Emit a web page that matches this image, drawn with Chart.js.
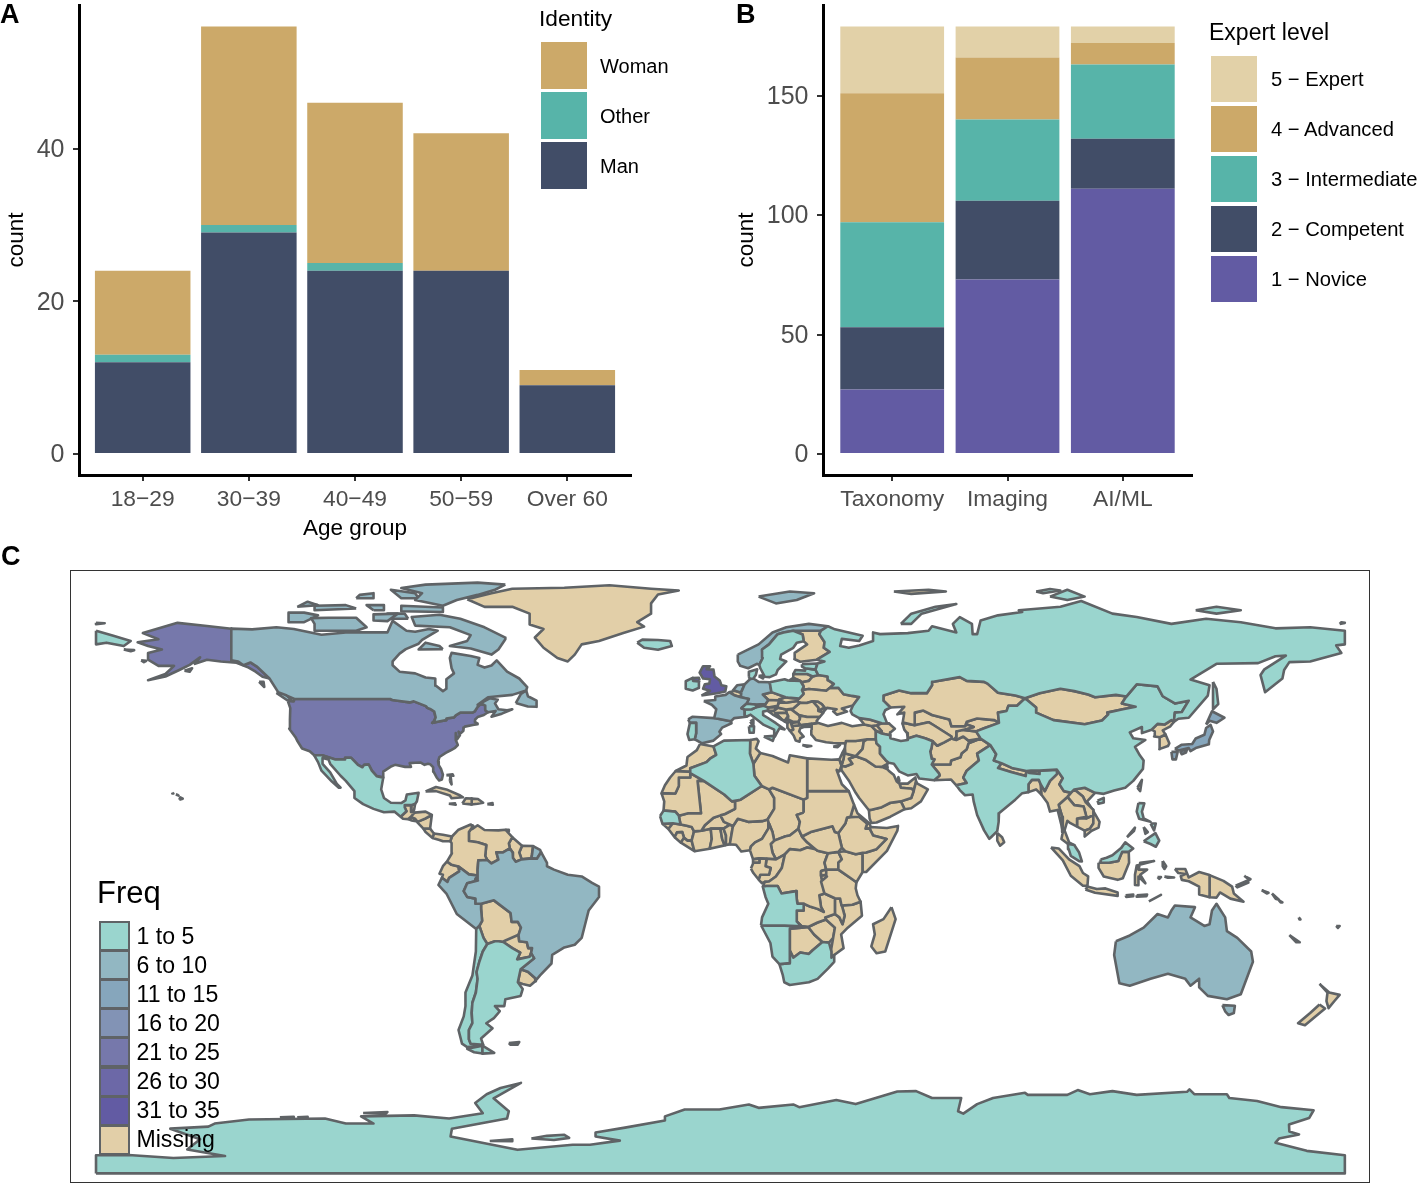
<!DOCTYPE html>
<html>
<head>
  <title>Survey respondents</title>
  <style>
    html, body { margin: 0; padding: 0; background: #fff; }
    #page { position: relative; width: 1418px; height: 1184px; overflow: hidden; font-family: "Liberation Sans", Arial, sans-serif; }
    canvas { position: absolute; }
    .txt { position: absolute; white-space: nowrap; transform: translateY(-50%); line-height: 1; }
    .swatch { position: absolute; box-sizing: border-box; }
    #mapBox { position: absolute; left: 70px; top: 570px; width: 1300px; height: 613px; box-sizing: border-box; border: 1px solid #333; pointer-events: none; }
  </style>
</head>
<body>
<div id="page">
  <canvas id="chartA" width="700" height="545" style="left:0;top:0"></canvas>
  <canvas id="chartB" width="698" height="520" style="left:720px;top:0"></canvas>
  <canvas id="chartC" width="1300" height="613" style="left:70px;top:570px"></canvas>
  <div id="mapBox"></div>
</div>
<script src="https://cdn.jsdelivr.net/npm/chart.js"></script>
<script>
// Panel A
const ageGroups = ['18\u221229', '30\u221239', '40\u221249', '50\u221259', 'Over 60'];
const manCounts = [12, 29, 24, 24, 9];
const otherCounts = [1, 1, 1, 0, 0];
const womanCounts = [11, 26, 21, 18, 2];
const ticksA = [0, 20, 40];
const identityLabels = ['Woman', 'Other', 'Man'];

// Panel B
const fields = ['Taxonomy', 'Imaging', 'AI/ML'];
const novice = [27, 73, 111];
const competent = [26, 33, 21];
const intermediate = [44, 34, 31];
const advanced = [54, 26, 9];
const expert = [28, 13, 7];
const ticksB = [0, 50, 100, 150];
const levelLabels = ['5 \u2212 Expert', '4 \u2212 Advanced', '3 \u2212 Intermediate', '2 \u2212 Competent', '1 \u2212 Novice'];

// Panel C legend
const freqLabels = ['1 to 5', '6 to 10', '11 to 15', '16 to 20', '21 to 25', '26 to 30', '31 to 35', 'Missing'];
const freqColors = ['#9AD5CE', '#92B7C2', '#86A6BC', '#8293B5', '#7678AB', '#6C68A7', '#625BA3', '#E2CFA8'];

// Panel C country outlines, flat lon,lat lists grouped by frequency bin
const bin1to5 = [
  // Russia
  [31,70.3,33,69.4,41,67.5,40,66,35,66.6,34.5,64.5,37,64,40,64.7,44,66,44,68.5,46,68,54,68.3,60,69,61,70.3,68,68.5,67,71,69,73,72.5,71,72.7,68,74,68,75,72,80,73.5,87,74.5,86,75,98,76,104,77.7,113,74,120,73,130,71,140,72.5,150,71.5,160,69.7,170,70,180,69,180,65,177.5,64.7,179,62.5,170,60,164,59.8,162.5,57.5,162,55,157,51,155.7,56,156.8,57.7,163,61.7,160,61.5,155,59.5,143,59.3,135.5,54.7,141,53,140.5,50,135,43.5,132,43.2,130.7,42.3,131,45,133,45.2,135,48.5,131,47.7,127.5,49.8,126,52.7,120,53.3,117,49.7,114,50.2,108,49.5,106,50.3,102,51.3,98,52,92,50.7,87.8,49.2,85,50,80,50.8,77,53.5,76,54,71,54.3,69,55.4,61,54,61,53,59.5,50.7,55,50.7,51.5,51.5,47,50,47,48.5,49,46.5,47.5,45.7,47,44.5,48,42,48.6,41.8,46.5,41.9,43,43,40,43.4,38,44.5,37.5,45.5,38.2,47.1,40,49.6,38,49.9,35.5,50.4,34,52.3,31.5,52.2,32.7,53.4,31,54.5,30.9,55.6,28.2,56,27.4,57.6,28,59.4,30,60,27.8,60.5,31.5,62.8,29.8,64,30,65.7,28.5,68,29,69],
  [-180,69,-175,67.5,-170,66,-172,64.5,-177,65.5,-180,65],
  [142,54,143,52,143.5,47.5,142,46,142,50],
  [52,71,55,71,58,74,68,76.8,62,76,55,74],
  [95,79,100,78,105,79,100,81],
  [91,80.5,95,81.2,98,80.8,93,80],
  [137,75,143,74,150,75,143,76],
  [19.8,54.4,22.7,54.4,21,55.2],
  // China
  [73.7,39.5,76,40.4,80.3,42,80,45,82.5,45.5,83,47,85.5,47,87.8,49.2,91,46.5,91,45,96,42.8,105,41.6,110,42.7,111.8,44.5,111.5,45,116,46,119.7,46.7,115.7,47.7,117,49.7,120,53.3,126,52.7,127.5,49.8,131,47.7,135,48.5,133,45.2,131,45,130.7,42.3,130,42.8,128,41.5,126,41.7,124.3,40,121.5,39,121.5,40.8,118,39.2,119,37.5,122.5,37,119.5,35,120.9,32.5,122,31,121.8,28.5,119,25,116.7,23,113.5,22.2,110.5,21.2,108,21.5,105,23,102,22.5,101,21.5,99,22,97.7,24,98.7,25.8,97,28.3,92,28,89.5,28,88.2,27.9,84,28.8,81,30.2,78.8,31,79.5,32.8,77.8,35.5,75,37.4],
  [108.7,19.2,110.5,20,110.5,18.7,109,18.3],
  // India
  [68,23.7,71,24.4,70,26,71,28,74.5,31,74,33,77.8,35.5,79.5,32.8,78.8,31,81,30.2,80,28.8,84,27.5,88,26.4,88.2,27.9,89,27.3,92,27,92,28,97,28.3,97,27,95,25,93.5,22,92.3,24,91.8,25.3,89.8,25.3,88.8,24,88.8,21.7,87,21.4,85,19.5,80.3,15.5,80.2,13,79.8,10.3,78,8.5,77.5,8,76,10.5,74,15,73,19,72.7,21,70.5,20.8,69,22.3],
  // Iran
  [44.8,39.7,46.5,38.9,48.9,38.4,49,37.5,52,36.7,54,37,54,37.4,56.5,38.2,59,37.5,61.2,36.6,60.8,34.5,60.5,33.6,60.9,31.5,61.7,31.3,60.9,29.8,63,27.2,63.2,26.6,61.6,25.2,57.3,25.7,56.5,27,54,26.6,51.5,27.8,50,30,48.5,30.3,47.7,31,46,33,46,35,45,36,44.8,37.2],
  // Algeria
  [-2,35.1,1,36.8,8.6,37,8.5,33,9.5,30,9.8,26.5,11.9,23.5,5.8,19.5,3.3,19,1.1,21,-4.8,25,-8.7,27.3,-8.7,28.7,-4,30.5,-3,31.5,-1.2,32.6],
  // Mexico
  [-117.1,32.5,-114.8,32.5,-111,31.3,-108.2,31.3,-108.2,31.8,-106.5,31.8,-104.5,29.7,-103.2,29,-102.7,29.7,-101.4,29.8,-100.5,28,-99.1,26.4,-97.2,25.96,-97.8,22.5,-97,20,-95,18.6,-92,18.5,-90.8,19.3,-90.4,21,-87,21.5,-87.5,19,-88,18.3,-89.1,17.9,-91,17.9,-91,17.2,-90.5,16.1,-92.2,14.5,-94,16,-97,15.8,-100,16.8,-103,18.2,-105.5,20,-105.5,22,-108,25,-109.5,26.5,-112.5,30,-113,31.3,-114.7,31.7,-114.7,30,-112.5,27.5,-110.5,24,-109.5,23,-110,23,-112,24.8,-115,28,-116,30.5],
  // Argentina
  [-67.2,-22.8,-65,-22,-64,-22,-62.6,-22.2,-60,-24,-57.7,-25.3,-58.6,-27.3,-55,-26.5,-54.6,-25.5,-53.7,-27,-57.6,-30.2,-58.4,-34,-57,-36,-57.6,-38,-62,-39,-62.3,-41,-65,-41,-63.6,-42.5,-65.3,-44.5,-67.5,-46,-65.7,-47.5,-69,-50.5,-68.4,-52.3,-72,-52,-72.5,-50.7,-72.5,-48,-71.5,-46,-71.7,-43,-71.5,-40,-70.5,-37,-70,-33,-70.3,-31,-69.5,-28,-68.5,-25],
  [-68.6,-52.6,-65.2,-54.7,-68.6,-54.9],
  // Chile
  [-70.4,-18.4,-69.5,-17.5,-68.3,-21,-67.2,-22.8,-68.5,-25,-69.5,-28,-70.3,-31,-70,-33,-70.5,-37,-71.5,-40,-71.7,-43,-71.5,-46,-72.5,-48,-72.5,-50.7,-72,-52,-68.4,-52.3,-70.5,-52.8,-73,-53,-74.5,-52,-75.5,-48,-74,-44,-73.5,-41,-73.5,-37,-71.5,-32,-70.5,-25],
  [-68.6,-52.6,-68.6,-54.9,-71,-54.5,-73,-53.5],
  // Sweden, Poland, Denmark, Switzerland, Italy, Ireland, Portugal, Iceland, Estonia, Latvia
  [11.2,59,12.2,61,12,63.5,14,65,16.5,68,18.2,68.5,21,69,23.7,67.9,24,65.9,22,65.5,21,64,17.5,62,17.2,60.7,19,60,16.5,57.5,16,56.2,14.2,55.4,12.8,55.5,11.5,58],
  [14.2,53.9,18.5,54.8,19.5,54.4,23,54.3,24,52.6,23.5,51.6,24,50.5,22.7,49.1,19.5,49.4,18.8,49.5,14.7,51],
  [8.1,55.5,8.2,57,10.6,57.7,10.2,56,9.5,55,8.6,54.9],
  [11,55.7,12.5,56,12.3,55],
  [6,46.3,7.5,47.6,10,47.4,10.4,46.6,9,46,7,45.9],
  [7,45.9,9,46,10.4,46.6,12.5,47,13.7,46.5,13.7,45.6,12.3,45.3,12.3,44.3,13.6,43.5,16,41.9,18.5,40.1,17,40.4,16.5,39.5,15.7,38,15.5,40,12.5,41.4,10.5,43,8.7,44.4,7.5,43.8,7,44.2],
  [12.5,38,15.6,38.2,15.1,36.7],
  [8.2,41,9.7,41,9.6,39.1,8.4,39.1],
  [-6.2,54.1,-7.9,54.3,-8,55.2,-10,54.2,-10,52,-8,51.5,-6.3,52.2],
  [-8.8,42,-7,42,-7,39,-7.4,37.2,-9,37,-9.5,38.7],
  [-24,65.5,-22,64,-18,63.4,-14,64.5,-14.5,66,-18,66.3,-22.5,66.4],
  [23.5,59.2,28,59.4,27.4,57.6,24.4,58,23.5,58.5],
  [21,56.3,21.6,57.5,24.4,57.3,24.4,58,27.4,57.6,28.2,56,26.6,55.6,25,56.3],
  // Senegal, Angola, Namibia, South Africa
  [-17.4,14.7,-16.4,16.3,-13,16,-12,14.8,-11.5,12.2,-13.7,12.6,-16.7,12.4],
  [11.7,-17.3,12,-15,13.8,-11,13,-9,12.2,-6,13.2,-5.8,16.5,-5.8,17.6,-8,21.8,-7.3,22,-9.6,22.2,-11,24,-11,24,-13,22,-13,22,-16.2,23.4,-17.6,18.5,-17.4,14,-17.4],
  [11.7,-17.3,14,-17.4,18.5,-17.4,23.4,-17.6,25.3,-17.8,23.4,-18,20,-18.3,20,-22,20,-28.4,17,-28.7,15,-26.5,14.4,-22.5],
  [17,-28.7,20,-28.4,20,-24.7,21,-26.8,23,-25.3,25.5,-25.7,26.5,-24.7,29.4,-22.2,31.3,-22.4,32,-25,32,-26.8,32.8,-26,32.8,-28,31,-30,28,-33,25.5,-34,20,-34.8,18.4,-34,18,-32],
  // Malaysia, Philippines
  [100.2,6.5,102,6.2,103.4,4,104.2,1.4,103.4,1.5,101,3,100.4,5],
  [109.6,2,111.3,2.5,113,3.2,115.5,5.3,116.7,7,119,5.2,117.7,4.2,115.8,4.2,114.7,1.5,112,1,109.6,1],
  [120.5,18.5,122.2,18.4,121.5,16,122,14,124,13,120.7,13.9,120,16],
  [122,7.3,125.4,9.7,126.5,7.5,125.5,5.7,124,6.5],
  [122,11.5,123.2,10,122.5,9.5],
  [124,12.5,125.5,12.5,125,10.5],
  [117.2,8.5,119.5,11.3,119.2,10.3],
  // Antarctica
  [-180,-90,-180,-84.7,-170.6,-84.6,-157.7,-85.5,-142.8,-84.9,-153.7,-83,-150,-80,-158.6,-76.9,-147.6,-76.3,-145.8,-75.4,-135.9,-74.2,-114,-73.9,-108,-75.4,-100,-75.4,-103.6,-73.3,-88.3,-73,-78.2,-73.9,-68.5,-72.4,-70.7,-69.4,-67.4,-66.8,-63.4,-65,-57.5,-63.5,-65.4,-68,-61,-71.8,-61.5,-73.9,-77.4,-76.9,-77.8,-79.2,-58.5,-83.1,-42.6,-81.6,-37.6,-81.6,-29,-80.4,-36,-79.2,-36,-78,-27.5,-76.6,-16,-74.5,-16,-73.3,-10.3,-71.3,-0.3,-71.3,8.2,-69.8,11,-70.8,21,-69.8,22.7,-70.6,33.4,-68.5,39,-69.7,51,-66,56.4,-65.9,61,-67.9,69.4,-67.9,68.5,-71.8,70,-72.5,74,-69.7,78.6,-67.9,87.8,-66.4,88.6,-67,100,-67,103,-65.6,106.5,-66.8,113,-65.9,120,-67,134.5,-66.1,135.2,-65.4,136.6,-66.8,146,-66.8,146.7,-67.9,154.7,-68.8,161.7,-70.6,171,-71.5,169.7,-73.8,163.9,-75.7,164,-77.7,166.8,-78.6,161,-79.8,160,-81,169,-83.4,180,-84.7,180,-90],
  [-54.5,-79.8,-50,-79,-45,-78.7,-43.6,-79.6,-48,-80.2],
  [-66.5,-80.5,-60,-80,-60,-80.6],
  [-103,-72.3,-96,-72,-96.5,-72.6],
  [-127,-73.6,-123,-73.4,-123,-73.8],
  [-122,-73.6,-119,-73.4,-119,-73.8]
];

const bin6to10 = [
  // Canada
  [-141,69.6,-141,60.3,-139,60,-137.5,58.9,-135.5,59.7,-133.5,58.4,-130,55,-127.5,51,-125,50,-122.8,49,-95.2,49,-94.6,48.7,-92.5,48.4,-89.6,48,-88.4,48.3,-84.9,46.9,-84.5,46.4,-83.5,46,-82.5,45.3,-82.1,43.6,-82.5,42.6,-83.1,42,-81.2,42.4,-79,42.8,-79,43.3,-76.8,43.6,-76.3,44.2,-75,45,-71.5,45,-70.8,45.4,-70,46.7,-69.2,47.45,-68.3,47.35,-67.8,47.07,-67.8,45.7,-67,45.1,-64.8,45.5,-66,43.8,-63,44.7,-60,46,-61.5,45.7,-64,46,-65,47.7,-64.2,48.8,-66.5,49.2,-70,47.3,-67,49.5,-60,50.2,-56,51.5,-55.7,52.5,-58,55,-61.5,57,-64.5,60.3,-66,58.8,-68,58.2,-70,59,-69.5,61,-72,61.6,-77.5,62.5,-78,61,-77.5,58,-76.8,56.5,-79,54.8,-79,52,-80,51.3,-82,52.9,-82.2,55,-85,55.3,-88,56.5,-92.5,57,-94.5,58.9,-94.5,60,-92.5,62.3,-90.7,63.6,-87,65.2,-86,66.3,-81.5,69,-84,69.5,-88,68.7,-90.5,69,-94.5,71.9,-96,68.5,-108,68.5,-115,67.8,-123,69.5,-128,70,-135,69.4],
  [-62,66.5,-64,63.5,-66,62,-72,63.8,-78,64.5,-73,66,-72,67.7,-78,70,-88,70.5,-89,73,-81,73.7,-75,72.5,-68,70,-62,67],
  [-105,69,-117,69,-117,71,-118,72.7,-113,72.8,-105,72.8,-102,70],
  [-124.5,71.5,-120,71.5,-116,73.5,-120,74.3,-124.5,74.3],
  [-62,82.5,-70,83.1,-85,82.5,-92,81.5,-86,80,-88,78,-80,76.3,-76,78,-70,79.5,-65,81],
  [-80,74.5,-92,74.7,-92,76.3,-80,75.8],
  [-88,80,-95,81,-92,78.5,-87,78.5],
  [-105,75.5,-117,75,-117,76.3,-108,76.5],
  [-100,72,-96,71.8,-93,74,-100,73.8],
  [-80,63.6,-87,63.5,-85,65.5,-81,64.5],
  [-90,72.5,-96,72.5,-96,74,-91,74],
  [-59,47.8,-55.5,46.8,-53,46.7,-53,48.5,-55.5,49.8,-56,51.5,-57.5,50.5],
  [-128,50.8,-125,48.7,-123.4,48.4,-125.5,50.5],
  [-133,54,-131.7,54,-131.5,52.5],
  [-100,75,-97,75,-97,76.5,-102,76.5],
  [-105,78.5,-100,78.5,-100,80,-104,79.5],
  [-122,76,-116,76.5,-119,77.5],
  // Australia
  [114,-22,113.5,-26,115,-34.3,118,-35,124,-33,129,-31.5,134,-33,135.5,-35,138,-33,138,-35.5,140.5,-38,146,-39,150,-37.5,153.5,-28,153,-25,149,-21,146,-19,145.5,-15,143,-11,141.7,-13,141,-17,139.5,-17.5,135.5,-15,136.8,-12,131,-11.5,130,-13,129,-15,126,-14,122,-18,118,-20.3],
  [144.7,-40.7,148.3,-40.9,148,-43,146.5,-43.6,145.5,-42.5],
  // Brazil, Peru, French Guiana
  [-51.7,4.1,-50,1,-50,0,-48,-1,-44,-2.5,-40,-3,-37,-4.9,-35,-6,-35,-9,-38,-13,-39,-17,-40,-21,-42,-23,-45,-23.8,-48.5,-26,-48.7,-28.5,-52,-32,-53.4,-33.7,-53.2,-33,-55.5,-30.9,-57.6,-30.2,-53.7,-27,-54.6,-25.5,-54.3,-24,-55.4,-24,-55.8,-22.3,-58,-22,-58.2,-20.1,-57.5,-18,-58.4,-16.3,-60.2,-16.3,-60.5,-13.7,-65.3,-10,-69,-11,-70.6,-11,-70.6,-9.5,-73,-9,-74,-7.3,-73,-5,-69.9,-4.2,-70,-1,-69.8,1.7,-67.2,1.8,-66,0.8,-64,1.9,-64.6,4.1,-62.8,4,-60.7,5.2,-59.9,4,-59.8,2.4,-59,1.3,-57.3,2,-54.5,2.3,-52.9,2.2],
  [-80.3,-3.4,-78.7,-4.6,-78.2,-3.4,-75.3,-1.5,-75.5,-0.1,-72.5,-2.4,-70,-2.7,-70.7,-3.8,-69.9,-4.2,-73,-5,-74,-7.3,-73,-9,-70.6,-9.5,-70.6,-11,-69,-11,-69,-12.5,-68.7,-16,-69.5,-17.5,-70.4,-18.4,-76,-14,-79,-8,-81.3,-5.5],
  [-54,5.9,-52,4.8,-51.7,4.1,-52.9,2.2,-54.5,2.3,-54.3,3.5],
  // France, Spain, Germany, Netherlands, Norway
  [-4.8,48.4,-1.5,48.7,-1.5,49.7,1.5,50.2,2.5,51,4.2,50,5.9,49.5,8.2,49,7.5,47.6,6,46.3,7,45.9,7,44.2,7.5,43.8,4,43.4,3,42.5,-1.8,43.4,-1.2,46,-2.5,47.3],
  [8.6,42.4,9.4,43,9.5,41.6,9.1,41.4],
  [-9.3,43,-8,43.8,-1.8,43.4,3,42.5,3.2,41.9,0.5,40.6,-0.3,39.4,0.2,38.7,-2,36.8,-5.3,36,-7.4,37.2,-7,39,-7,42,-8.8,42],
  [6,50.8,6,51,7,53.3,8.6,54.9,9.5,55,11,54,14.2,53.9,14.7,51,12.2,50.3,13.8,48.7,13,47.5,10,47.4,7.5,47.6,8.2,49,5.9,49.5],
  [3.5,51.4,4.8,53,7,53.3,6,51,6,50.8,4.2,51.4],
  [5,62,11,65,15,68.5,19,70,25.5,71,31,70.3,29,69,25.7,69,21,69,18.2,68.5,16.5,68,14,65,12,63.5,12.2,61,11.2,59,10.5,59.3,8,58,5.7,58.7,5,60],
  [11,79,16,77,22,78,27,80,20,80.5]
];

const bin11to15 = [
  // Japan
  [131,34.4,133,35.6,136,35.8,137,37.4,139.5,38.5,140,40.5,141.3,41.4,142,39.5,140.9,37,140.8,35.7,137,34.6,135.5,33.7,135,34.6,132,33.9],
  [140,41.5,141.7,45.4,145.3,43.5,143,42,141,42.6],
  [130,33.5,131.8,33.5,131.3,31.3,130.3,31.3],
  [132.5,33.7,134.5,34.2,134.2,33.3,133,32.8]
];

const bin21to25 = [
  // United States
  [-124.7,48.4,-123,48.3,-122.8,49,-95.2,49,-94.6,48.7,-92.5,48.4,-89.6,48,-88.4,48.3,-84.9,46.9,-84.5,46.4,-83.5,46,-82.5,45.3,-82.1,43.6,-82.5,42.6,-83.1,42,-81.2,42.4,-79,42.8,-79,43.3,-76.8,43.6,-76.3,44.2,-75,45,-71.5,45,-70.8,45.4,-70,46.7,-69.2,47.45,-68.3,47.35,-67.8,47.07,-67.8,45.7,-67,45.1,-68.2,44.3,-70,43.7,-70.7,43,-70.8,42.3,-70,41.8,-70,41.6,-71.4,41.4,-73.7,40.9,-74,40.6,-74.1,39.7,-74.9,38.9,-75.5,39.4,-75.1,38.4,-75.9,37.2,-76.3,39,-76.3,37,-75.7,35.5,-76.5,34.7,-77.9,33.9,-79.2,33.2,-81,32,-81.4,30.7,-81.2,29.6,-80.5,28.4,-80,26.8,-80.3,25.4,-81.1,25.1,-81.8,26,-82.7,27.7,-82.8,29,-83.7,29.9,-84.3,30,-85.3,29.7,-86.5,30.4,-88,30.3,-89.6,30.2,-89.2,29.1,-90.9,29.1,-93.8,29.7,-94.8,29.3,-97.2,27.7,-97.2,25.96,-99.1,26.4,-100.5,28,-101.4,29.8,-102.7,29.7,-103.2,29,-104.5,29.7,-106.5,31.8,-108.2,31.8,-108.2,31.3,-111,31.3,-114.8,32.5,-117.1,32.5,-118.4,33.7,-120.6,34.5,-121.9,36.6,-122.5,37.8,-124.3,40.3,-124.1,43,-124,46.3],
  // Alaska
  [-141,69.6,-141,60.3,-139,60,-137.5,58.9,-135.5,59.7,-133.5,58.4,-131,56,-130,55,-132,55.5,-134,57,-136,58.2,-139.5,59.6,-144,60,-148,60.5,-151.5,59.3,-150,61.2,-153,59,-156,57.5,-160,55.6,-165,54.5,-160,56.3,-157.5,58.7,-162,58.7,-165,60.5,-165,62.5,-161,63.5,-165,64.5,-168,65.6,-162,66.5,-166.5,68.3,-156.5,71.3,-148,70.4],
  [-156,19.5,-155,19.8,-155.7,20.2],
  [-157,21,-156.2,20.7,-156.5,20.9],
  [-158,21.5,-157.7,21.3,-158,21.3],
  [-154.5,57.3,-152.3,58,-153,57],
  [-172,63.5,-169,63.3,-170,63],
  [-167,60.3,-165.5,60.2,-166.2,59.8]
];

const bin31to35 = [
  // United Kingdom
  [-5.5,50,-1,50.7,1.4,51.2,1.7,52.7,0.3,53,-0.2,54.4,-1.7,55.6,-2,57.6,-4,57.7,-3,58.6,-5,58.6,-6,56.7,-5,55,-3,54.8,-3.2,53.5,-4.5,53.3,-5,52,-3,51.4],
  [-6,54.4,-6.2,55.2,-8,55.1,-7.9,54.3,-6.2,54.1]
];

const binMissing = [
  // Greenland, Caribbean, Central America
  [-73,78.2,-66,80,-60,81.3,-45,81.6,-32,82.3,-20,81.3,-12,80.8,-18,79.6,-20,77,-20,74,-24,71.5,-22,70.2,-28,68.3,-35,66,-40,65,-42,62,-44,60,-47,61,-51,64,-53.5,67,-51,69.5,-55,70.8,-55,74,-60,76,-68,76],
  [-85,21.9,-82,23.2,-79,22.5,-75,20.7,-74.2,20.2,-77.5,19.9,-78,20.7,-82,22],
  [-74.4,18.4,-72.5,18.2,-71.8,18.1,-71.7,19.8,-73.4,19.9],
  [-71.8,18.1,-70,18.3,-68.4,18.6,-69.9,19.7,-71.7,19.8],
  [-78.3,18.3,-76.3,18,-76.5,18.4],
  [-67.2,18.2,-65.6,18,-65.7,18.5],
  [-78,25,-77.5,24,-77.8,26.5],
  [-79,26.7,-77,26.5,-77.2,26.9],
  [-92.2,14.5,-90.5,16.1,-91,17.2,-91,17.9,-89.1,17.9,-89.2,15.9,-88.2,15.7,-89.3,14.4,-90,13.8,-91.5,13.9],
  [-89.1,17.9,-88,18.3,-88.3,16.5,-89.2,15.9],
  [-89.2,15.9,-88.2,15.7,-85,16,-83.2,15,-85,14,-87.3,13,-88,13.9,-89.3,14.4],
  [-90,13.8,-89.3,14.4,-88,13.9,-87.8,13.2,-89,13.4],
  [-87.5,13,-85,14,-83.2,15,-83.7,11,-85.7,11.1],
  [-85.7,11.1,-83.7,11,-82.6,9.6,-83,8.3,-85,10],
  [-83,8.3,-82.6,9.6,-80,9.2,-77.4,8.7,-77.9,7.3,-80,7.3,-81,7.7],
  // South America
  [-77.4,8.7,-75.5,10.7,-72,12.2,-71.3,11.8,-72.5,10,-72.5,7.4,-70,7,-67.5,6.2,-67.8,3,-67.2,1.8,-69.8,1.7,-70,-1,-69.9,-4.2,-70.7,-3.8,-70,-2.7,-72.5,-2.4,-75.5,-0.1,-77.5,0.4,-78.8,1.4,-77.4,3.8,-77.5,6.8,-77.9,7.3],
  [-72,12.2,-71.3,11.8,-71.5,10.9,-70,12,-68,10.6,-64,10.5,-62,10.7,-60.8,9.4,-60,8.5,-61,6.7,-60.7,5.2,-62.8,4,-64.6,4.1,-64,1.9,-66,0.8,-67.2,1.8,-67.8,3,-67.5,6.2,-70,7,-72.5,7.4,-72.5,10,-71.3,11.8],
  [-60,8.5,-57.2,6,-58,4,-57.3,2,-59,1.3,-59.8,2.4,-59.9,4,-60.7,5.2,-61,6.7],
  [-57.2,6,-54,5.9,-54.3,3.5,-54.5,2.3,-57.3,2,-58,4],
  [-78.8,1.4,-77.5,0.4,-75.5,-0.1,-75.3,-1.5,-78.2,-3.4,-78.7,-4.6,-80.3,-3.4,-80,-2.5,-81,-2.2,-80,0],
  [-69,-11,-65.3,-10,-60.5,-13.7,-60.2,-16.3,-58.4,-16.3,-57.5,-18,-58.2,-20.1,-62.3,-21.9,-62.6,-22.2,-64,-22,-65,-22,-67.2,-22.8,-68.3,-21,-69.5,-17.5,-68.7,-16,-69,-12.5],
  [-58.2,-20.1,-58,-22,-55.8,-22.3,-55.4,-24,-54.3,-24,-54.6,-25.5,-55,-26.5,-58.6,-27.3,-57.7,-25.3,-60,-24,-62.6,-22.2,-62.3,-21.9,-61.8,-19.6],
  [-57.6,-30.2,-55.5,-30.9,-53.2,-33,-53.4,-33.7,-54.9,-35,-57,-34.5,-58.4,-34],
  [-61,-51.8,-58,-51.5,-58.5,-52.3,-60.5,-52.3],
  [-61.8,10.1,-61,10.2,-61,10.7,-61.6,10.7],
  // Europe
  [21,69,25.7,69,29,69,28.5,68,30,65.7,29.8,64,31.5,62.8,27.8,60.5,23,59.9,21.3,60.7,21.4,62.5,25,65,24,65.9,23.7,67.9],
  [2.5,51,4.2,51.4,6,50.8,5.9,49.5,4.2,50],
  [9.6,47.4,13,47.5,13.8,48.7,16.9,48.6,16.5,47,13.7,46.5,10.4,46.9],
  [12.2,50.3,14.7,51,18.8,49.5,17,48.9,16.9,48.6,13.8,48.7],
  [16.9,48.6,17,48.9,18.8,49.5,19.5,49.4,22.5,49.1,22.1,48.4,18.8,47.9],
  [16.5,47,16.9,48,18.8,47.9,22.1,48.4,22.9,47.9,21,46.2,18.9,45.9,16.5,46.5],
  [13.7,46.5,16.5,46.5,15.3,45.5,13.7,45.5],
  [13.7,45.5,15.3,45.5,16.5,46.4,18.9,45.9,19,45,15.8,44.9,17.7,43,18.5,42.4,15,44.5],
  [15.8,44.9,19,45,19.5,44,18.5,42.6,17.7,43],
  [19,45,18.9,45.9,20.3,46,22.7,44.2,22.9,43.2,22.4,42.3,21,42.3,19.5,43,19.5,44],
  [18.5,42.6,19.5,43,20,42.7,19.3,41.9,18.5,42.4],
  [19.3,41.9,20,42.7,20.6,41.1,21,40,20,39.7,19.4,40.5],
  [20.6,41.1,20.6,42,22.4,42.3,23,41.3],
  [21,40,20.6,41,23,41.3,26.3,41.7,26.2,40.9,24,40.8,23,40.4,22.7,39.5,24,38,23,37.5,22.8,36.5,21.7,36.8,21.1,38.3,20,39.7],
  [23.6,35.5,26.2,35.2,25,35],
  [22.4,42.3,22.9,43.2,22.7,44.2,25,43.7,28.6,43.7,27.7,42.5,28,42,26.3,41.7,23,41.3],
  [21,46.2,22.9,47.9,24.9,47.8,26.6,48.3,28.2,46.5,28.2,45.5,29.7,45,28.6,43.7,25,43.7,22.7,44.2,20.3,46],
  [26.6,48.3,28,48.2,29.2,47.5,30,46.5,28.2,45.5,28.2,46.5],
  [24,50.5,23.5,51.6,25.5,51.9,30.5,51.4,31.5,52.2,34,52.3,35.5,50.4,38,49.9,40,49.6,38.2,47.1,35,46.2,36.5,45.3,33.6,44.4,32.5,45.4,33.5,46,30.7,46.4,29.7,45.2,28.2,45.5,30,46.5,29.2,47.5,28,48.2,26.6,48.3,24.9,47.8,22.9,47.9,22.1,48.4,22.5,49.1],
  [23.5,51.6,24,52.6,23.5,53.9,25.5,54.3,26.6,55.6,28.2,56,30.9,55.6,31,54.5,32.7,53.4,31.5,52.2,30.5,51.4,25.5,51.9],
  [21,55.2,21,56.3,25,56.3,26.6,55.6,25.5,54.3,23.5,53.9,23,54.3,22.7,54.4],
  // Middle East and Central Asia
  [40,43.4,43,43,46.5,41.9,45,41.3,43.5,41.1,41.5,41.5],
  [43.5,41.1,45,41.3,46.5,39.5,46.5,38.9,44.8,39.7],
  [45,41.3,46.5,41.9,48.6,41.8,50.3,40.3,49,39.2,48.9,38.4,46.5,38.9,46.5,39.5],
  [26.2,40,26.3,41.7,28,42,31,41.1,35,42,38,41,41.5,41.5,43.5,41.1,44.8,39.7,44.8,37.2,42.3,37.2,39,36.7,36.2,36.7,36,36,32.5,36.1,30.5,36.3,27.5,37,26.3,38.5],
  [42.3,37.2,44.8,37.2,45,36,46,35,46,33,47.7,31,48.5,30.3,48,29.9,46.5,29.1,44.7,29.2,42,31.1,39,32.2,41,34.4,41.3,36.5],
  [36.2,36.7,39,36.7,42.3,37.2,41.3,36.5,41,34.4,39,32.2,36,33,35.9,34.6,36,36],
  [35.1,33.1,36,33.3,36.4,34.5,35.9,34.6],
  [34.3,31.3,34.9,29.5,35.5,31.5,35.7,33.3,35.1,33.1],
  [35.5,31.5,34.9,29.5,36,29.2,38,30,37,31.5,39,32.2,36,33,35.7,32.7],
  [34.9,29.5,36,29.2,38,30,37,31.5,39,32.2,42,31.1,44.7,29.2,46.5,29.1,48,28.5,48.5,28,50,26.7,50.8,24.8,51.6,24.2,52,23,55.2,22.7,55.7,22,55,20,52,19,49,18.6,46.5,17.3,43.3,16.5,42.8,16.4,40,20,39,21.5,37.2,24.8,35,28],
  [42.8,16.4,43.3,16.5,46.5,17.3,49,18.6,52,19,53.1,16.7,49,14.5,45,12.8,43.5,12.7,43,14],
  [52,19,55,20,55.7,22,56.4,24.8,56.8,24.2,59.8,22.5,57.8,19,55,17,53.1,16.7],
  [51.6,24.2,54,24.2,56.2,26,56.4,24.8,55.7,22,55.2,22.7,52,23],
  [50.8,24.8,51.3,26.1,51.6,25,51.2,24.6],
  [46.5,29.1,48,29.9,48.2,28.9,48,28.5],
  [32.5,35,34.5,35.6,33.8,34.9],
  [47,50,51.5,51.5,55,50.7,59.5,50.7,61,53,61,54,69,55.4,71,54.3,76,54,77,53.5,80,50.8,85,50,87.8,49.2,85.5,47,83,47,82.5,45.5,80,45,80.3,42,79,42.8,74,43.3,71,42.3,70.5,41,66.6,41,66,43,61,44.3,58.5,45.6,56,45,56,41.3,53,42,52.5,41.8,53,45,51,44.5,53,46.7,49,46.5,47,48.5],
  [53,42,52.5,41.8,53,40,53.8,39,54,37.4,56.5,38.2,59,37.5,61.2,36.6,62.5,35.3,64.5,36.3,66.5,37.4,66.6,38,61.5,41.3,60,42.2,56,41.3],
  [56,41.3,56,45,58.5,45.6,61,44.3,66,43,66.6,41,70.5,41,71,41.5,73,40.8,71,40.2,68,39.5,68,38,67.5,37.2,66.5,37.4,66.6,38,61.5,41.3,60,42.2],
  [70.5,41,71,42.3,74,43.3,79,42.8,80.3,42,76,40.4,73.7,39.5,69.5,40,71,40.2,73,40.8,71,41.5],
  [68,38,68,39.5,69.5,40,73.7,39.5,75,37.4,71.5,36.8,70,38,68,37],
  [60.5,33.6,60.8,34.5,61.2,36.6,62.5,35.3,64.5,36.3,66.5,37.4,68,37,70,38,71.5,36.8,75,37.4,71.5,36,71,34.3,69.5,33,69.2,31.9,66.5,31,66.3,29.8,60.9,29.8,61.7,31.3,60.9,31.5],
  [61.6,25.2,63.2,26.6,63,27.2,60.9,29.8,66.3,29.8,66.5,31,69.2,31.9,69.5,33,71,34.3,71.5,36,75,37.4,77.8,35.5,74,33,74.5,31,71,28,70,26,71,24.4,68,23.7,66.5,25.4],
  [87.8,49.2,92,50.7,98,52,102,51.3,106,50.3,108,49.5,114,50.2,117,49.7,115.7,47.7,119.7,46.7,116,46,111.5,45,111.8,44.5,110,42.7,105,41.6,96,42.8,91,45,91,46.5],
  // South and East Asia
  [80,28.8,81,30.2,84,28.8,88.2,27.9,88,26.4,84,27.5],
  [89,27.3,92,27,92,27.9,89.5,28],
  [88.8,24,89.8,25.3,91.8,25.3,92.3,24,92.5,21,91,22.5,88.8,21.7],
  [79.8,9.7,81.2,8.5,81.8,7,80.6,6,79.8,7.5],
  [92.5,21,92.3,24,93.5,22,95,25,97,27,97,28.3,98.7,25.8,97.7,24,99,22,101,21.5,100,20.3,97.5,18,98.5,14.5,98.7,10,98.3,12,97.2,16.5,95,16,94.3,18.5],
  [97.5,18,100,20.3,102,17.9,104.7,17.5,105.5,14.5,102.8,14,102.8,11.6,100.9,12.6,100,13.3,99.2,10.5,100.5,7,102,6.2,100.2,6.5,98.3,8,98.7,10,98.5,14.5],
  [101,21.5,102,22.5,104.5,20.4,105.3,18.7,107.5,16.5,107.5,15,105.5,14,105.5,14.5,104.7,17.5,102,17.9,100,20.3],
  [102,22.5,105,23,108,21.5,105.7,19,107,17,109.3,13,109,11.3,107,10.4,105,8.7,105,10.4,106.5,11,107.5,12.5,107.5,15,107.5,16.5,105.3,18.7,104.5,20.4],
  [102.8,11.6,102.8,14,105.5,14,107.5,15,107.5,12.5,106.5,11,105,10.4],
  [124.3,40,126,41.7,128,41.5,130,42.8,130.7,42.3,129.7,41,127.5,39.8,128.3,38.6,126.7,37.8,125,38,125.2,39.5],
  [126.7,37.8,128.3,38.6,129.4,36,129,35.2,126.5,34.3,126.5,37],
  [120.2,23,121.5,25.3,121,22],
  // Indonesia, New Guinea, New Zealand and small islands
  [109,1,109.6,1,112,1,114.7,1.5,115.8,4.2,117.7,4.2,117.8,1,116,-3.5,114.5,-4,110.5,-3,109,-0.5],
  [95.3,5.5,97.5,5.2,100.5,2,103.5,0,104.5,-2,106,-3,105.8,-5.8,104.5,-5.7,101,-2.8,98.7,1.7],
  [105.2,-6.8,106,-6,108.5,-6.7,111,-6.5,114.5,-7.7,114.5,-8.7,108,-7.8],
  [119.5,-5.5,120.4,-5.6,120.5,-3,122.5,-5,121,-2.5,123,-1,120.5,-1,121,1,125,1.5,120,0.2,119.5,-2.5],
  [131,-0.8,134,-0.8,135,-3.3,138,-1.7,141,-2.6,141,-9.1,138,-8.3,138,-6,135,-4.4,133,-4,132.7,-2.9,134,-2.3,132,-2],
  [141,-2.6,145,-4.3,147.5,-6,148,-8,150.8,-10.4,147,-9.5,144,-7.7,143,-9.2,141,-9.1],
  [116.8,-8.5,119,-8.3,119,-8.8,117,-9],
  [120,-8.5,123,-8.3,122.8,-8.8,120,-8.9],
  [123.5,-10.3,127,-8.4,125,-9.5],
  [127.5,1.5,128.5,0,128,-0.8,127.5,0],
  [128,-3,130.8,-3.3,129,-3.4],
  [126,-3.2,127,-3.2,126.5,-3.7],
  [148.5,-5.7,152,-4.2,152.2,-4.8,149,-6.2],
  [151,-2.8,152.8,-3.8,152.5,-4],
  [156,-7,158,-7.8,157.5,-8],
  [159,-8,161,-9.8,160,-9.5],
  [161,-10,162,-10.6,161.5,-10.6],
  [166.7,-15,167.2,-15.6,166.9,-15.6],
  [164,-20.2,167,-22.3,166,-22.3],
  [177.5,-17.5,178.5,-17.5,178,-18.1],
  [178.5,71,180,71.3,179,71.5],
  [-180,71.3,-177.5,71.2,-180,70.9],
  [50,80.5,60,81,65,80.5,55,79.8],
  [172.7,-34.5,175.5,-37,178.5,-37.7,177,-39.5,175.3,-41.6,174.7,-39.5,175,-37],
  [172.7,-40.5,174.3,-41.7,171,-44.5,168.5,-46.6,166.5,-46,170,-43],
  // Africa
  [-5.9,35.8,-2,35.1,-1.2,32.6,-3,31.5,-4,30.5,-8.7,28.7,-8.7,27.7,-12.9,27.9,-9.8,29.5,-9.5,32,-6.8,34],
  [-8.7,27.7,-8.7,26,-12,26,-12,23.5,-13,21.3,-17,21.4,-16,23.7,-14.5,26,-12.9,27.9],
  [-17,21.4,-13,21.3,-12,23.5,-12,26,-8.7,26,-8.7,27.3,-4.8,25,-6.6,25,-5.6,15.5,-9.3,15.5,-12,14.8,-13,16,-16.4,16.3,-16.2,19],
  [-12,14.8,-9.3,15.5,-5.6,15.5,-6.6,25,-4.8,25,1.1,21,3.3,19,4.2,19,4.2,16.8,1.3,15.3,0,14.9,-2,14.2,-4.5,12,-5.5,10.4,-7.6,10.2,-8.3,11.5,-10,11.9,-11.5,12.2],
  [8.6,37,10.5,37.3,11,36.6,10.2,34.5,11.5,33.2,9.5,30,8.5,33],
  [11.5,33.2,15,32.3,19.5,30.4,20,32.5,25,31.6,25,20,24,19.5,15,23,14,22.5,11.9,23.5,9.8,26.5,9.5,30],
  [25,31.6,32,31.2,34.3,31.3,34.9,29.5,34.3,27.8,33.5,28.2,35,24,37,22,25,22],
  [24,15.7,24,19.5,25,20,25,22,37,22,38.5,18,37.5,14.5,36.5,14.3,36,12.5,34,9.7,33,10,32.3,11.7,26,10,23.5,8.7,22.5,11,22.9,13,22,15],
  [23.5,8.7,26,10,32.3,11.7,33,10,34,9.7,35,5.4,34,4.2,31,3.8,28,4.5,27.4,5,25,7],
  [36.5,14.3,37.5,14.5,38.5,18,39.5,15.5,43,12.5,42.3,12.5,40,14.5],
  [36,12.5,36.5,14.3,37.5,14.5,40,14.5,42.3,12.5,41.8,11,43,11,44,9,47.9,8,45,5,42,4,41,3.9,39,3.5,36,4.4,35,5.4,34,9.7],
  [42.3,12.5,43,12.5,43.3,11.5,43,11,41.8,11],
  [43,11,43.3,11.5,48,11.2,51.2,11.8,51,10.4,48,4.5,42,-1.7,41,-1.7,41,3.9,42,4,45,5,47.9,8,44,9],
  [34,4.2,36,4.4,39,3.5,41,3.9,41,-1.7,39.2,-4.7,37.7,-3.6,34,-1,34,1,35,2],
  [31,3.8,34,4.2,35,2,34,1,34,-1,30.5,-1,30,1],
  [30.5,-1,34,-1,37.7,-3.6,39.2,-4.7,39,-6.5,39.5,-8.5,40.4,-10.4,38,-11.3,34.9,-11.5,34.5,-9.5,33,-9.4,30,-8,29,-4.5,30.7,-3],
  [29,-1.4,30.5,-1,30.7,-2.4,29,-2.8],
  [29,-2.8,30.7,-2.4,30.7,-3,29.4,-4.5],
  [12.2,-6,12.8,-4.6,14,-4.5,16,-3,17.7,-0.5,18.6,3.5,20,5,23,4.7,25,5.5,27.4,5,28,4.5,31,3.8,30,1,30.5,-1,29,-1.4,29,-2.8,29.4,-4.5,30,-8,28.5,-8.5,29,-12,29.8,-13.4,28,-12.5,26,-11.9,24,-11,22.2,-11,22,-9.6,21.8,-7.3,17.6,-8,16.5,-5.8,13.2,-5.8],
  [22,-13,24,-13,24,-11,26,-11.9,28,-12.5,29.8,-13.4,29,-12,28.5,-8.5,30,-8,33,-9.4,33,-14,30.2,-15,30.4,-15.6,28,-16.5,25.3,-17.8,23.4,-17.6,22,-16.2],
  [33,-9.4,34.5,-9.5,35,-11.5,35.8,-14.5,35.2,-17,34.3,-15,33,-14],
  [34.9,-11.5,38,-11.3,40.4,-10.4,40.8,-14.5,36.7,-18,34.8,-20,35.5,-24,32.8,-26,32,-26.8,31.9,-24.5,32.5,-21,33,-18,30.4,-15.6,30.2,-15,33,-14,34.3,-15,35.2,-17,35.8,-14.5,35,-11.5],
  [25.3,-17.8,28,-16.5,30.4,-15.6,33,-18,32.5,-21,31.3,-22.4,29.4,-22.2,27,-20],
  [20,-22,20,-18.3,23.4,-18,25.3,-17.8,27,-20,29.4,-22.2,26.5,-24.7,25.5,-25.7,23,-25.3,21,-26.8,20,-24.7],
  [31,-25.9,32,-26.3,32,-27.2,31,-27.2],
  [27.2,-29.6,28.8,-28.7,29.4,-29.5,28.2,-30.6],
  [49.3,-12,50.5,-15.5,47.5,-25,45,-25.5,43.5,-23.5,44.5,-20,44,-17,47,-15.5],
  [8.8,-0.7,9.5,1,11.3,1,11.3,2.3,13.3,2.2,13,0,14.5,-0.5,14,-2.5,11.5,-2.5,11,-3.9,9.5,-2],
  [9.4,2,11.3,2.3,11.3,1,9.5,1],
  [11,-3.9,11.5,-2.5,14,-2.5,14.5,-0.5,13,0,13.3,2.2,16,2,18.6,3.5,17.7,-0.5,16,-3,14,-4.5,12.8,-4.6,12,-5],
  [8.5,4.7,9.4,2,11.3,2.3,13.3,2.2,16,2,15,4,14.5,6.5,15.5,7.5,15,10,14,12.5,13.8,11,12,8,10,7,8.8,5.8],
  [14.5,6.5,15,4,16,2,18.6,3.5,20,5,23,4.7,25,5.5,27.4,5,25,7,23.5,8.7,22.5,11,20,9,18.8,8.8,15.5,7.5],
  [13.6,13.7,14,12.5,15,10,15.5,7.5,18.8,8.8,20,9,22.5,11,22.9,13,22,15,24,15.7,24,19.5,15,23,14,22.5,15.5,20,15.5,16.8],
  [3.3,19,5.8,19.5,11.9,23.5,14,22.5,15.5,20,15.5,16.8,13.6,13.7,12,13.2,8,13,5,13.9,3.6,11.7,2.8,12.2,1,13,0,14.9,1.3,15.3,4.2,16.8,4.2,19],
  [2.7,6.4,3.6,11.7,5,13.9,8,13,12,13.2,13.6,13.7,14,12.5,13.8,11,12,8,10,7,8.8,5.8,8.5,4.7,6,4.3,4.5,6.3],
  [1.6,6.2,2.7,6.4,3.6,11.7,2.8,12.2,0.9,11,1.6,9],
  [1.2,6.1,1.6,6.2,1.6,9,0.9,11,0,11,0.5,8],
  [-3.1,5.1,1.2,6.1,0.5,8,0,11,-2.8,11,-2.5,8],
  [-5.5,10.4,-2.8,11,0,11,0.9,11,2.8,12.2,1,13,0,14.9,-2,14.2,-4.5,12],
  [-7.5,4.4,-3.1,5.1,-2.5,8,-2.8,11,-5.5,10.4,-7.6,10.2,-8.3,7.5],
  [-11.4,6.9,-7.5,4.4,-8.3,7.5,-9.5,7.5,-10.5,8.3],
  [-13.2,8.5,-11.4,6.9,-10.5,8.3,-11,10,-12.5,9.9],
  [-15,10.9,-13.2,8.5,-12.5,9.9,-11,10,-10.5,8.3,-9.5,7.5,-8.3,7.5,-7.6,10.2,-8.3,11.5,-10,11.9,-11.5,12.2,-13.7,12.6],
  [-16.7,12.4,-13.7,12.6,-15,10.9],
  [-16.8,13.5,-14,13.5,-14,13.2,-16.7,13.2]
];

const binFills = [
  [bin1to5, freqColors[0]],
  [bin6to10, freqColors[1]],
  [bin11to15, freqColors[2]],
  [bin21to25, freqColors[4]],
  [bin31to35, freqColors[6]],
  [binMissing, freqColors[7]]
];

const colWoman = '#CCA969', colOther = '#57B4A9', colMan = '#414D67', colExpert = '#E2D1A8', colNovice = '#625BA3';

Chart.defaults.font.family = '"Liberation Sans", Arial, sans-serif';
Chart.defaults.animation = false;
Chart.defaults.responsive = false;

function toPoints(values) {
  return values.map((v, i) => ({ x: i + 1, y: v }));
}

// bars sit on a linear x axis so the side gaps can follow ggplot's 0.6 expansion
function barChart(id, names, series, yTicks, xMax, yMin, yMax, yWidth, xHeight, padRight, yTitlePad, xTitle) {
  return new Chart(document.getElementById(id), {
    type: 'bar',
    data: {
      datasets: series.map(s => ({
        data: toPoints(s[0]),
        backgroundColor: s[1],
        barPercentage: 0.9,
        categoryPercentage: 1
      }))
    },
    options: {
      layout: { padding: { top: 5, right: padRight, left: 0, bottom: 0 } },
      plugins: { legend: { display: false }, tooltip: { enabled: false } },
      scales: {
        x: {
          type: 'linear', stacked: true, min: 0.4, max: xMax, offset: false,
          afterBuildTicks: s => { s.ticks = names.map((n, i) => ({ value: i + 1 })); },
          afterFit: s => { s.height = xHeight; s.paddingLeft = 0; s.paddingRight = 0; },
          border: { color: '#000', width: 3 },
          grid: { offset: false, drawOnChartArea: false, drawTicks: true, tickLength: 6, color: '#333', lineWidth: 2 },
          ticks: { color: '#4d4d4d', font: { size: 22.8 }, padding: 5, maxRotation: 0, autoSkip: false, callback: v => names[v - 1] },
          title: xTitle ? { display: true, text: xTitle, color: '#000', font: { size: 22.5 }, padding: { top: 0, bottom: 2.5 } } : { display: false }
        },
        y: {
          stacked: true, min: yMin, max: yMax,
          afterBuildTicks: s => { s.ticks = yTicks.map(v => ({ value: v })); },
          afterFit: s => { s.width = yWidth; s.paddingTop = 0; s.paddingBottom = 0; },
          border: { color: '#000', width: 3 },
          grid: { drawOnChartArea: false, drawTicks: true, tickLength: 6, color: '#333', lineWidth: 2 },
          ticks: { color: '#4d4d4d', font: { size: 25 }, padding: 8.5, labelOffset: 1.5 },
          title: { display: true, text: 'count', color: '#000', font: { size: 22.5 }, padding: { top: yTitlePad, bottom: 0 } }
        }
      }
    }
  });
}

barChart('chartA', ageGroups,
  [[manCounts, colMan], [otherCounts, colOther], [womanCounts, colWoman]],
  ticksA, 5.6, -2.75, 58.8, 79, 70, 69, 3, 'Age group');

barChart('chartB', fields,
  [[novice, colNovice], [competent, colMan], [intermediate, colOther], [advanced, colWoman], [expert, colExpert]],
  ticksB, 3.6, -8.8, 187.95, 103, 45, 226, 13, null);

// map: one closed scatter line per polygon, filled with the line's own shape
const mapSets = [];
binFills.forEach(([polys, color]) => {
  polys.forEach(flat => {
    const pts = [];
    for (let i = 0; i < flat.length; i += 2) pts.push({ x: flat[i], y: flat[i + 1] });
    pts.push(pts[0]);
    mapSets.push({
      data: pts, showLine: true, fill: 'shape', backgroundColor: color,
      borderColor: '#5F6366', borderWidth: 2.6, borderJoinStyle: 'round',
      pointRadius: 0, tension: 0
    });
  });
});

new Chart(document.getElementById('chartC'), {
  type: 'scatter',
  data: { datasets: mapSets },
  options: {
    layout: { padding: 0 },
    plugins: { legend: { display: false }, tooltip: { enabled: false } },
    scales: {
      x: { type: 'linear', display: false, min: -187.5, max: 187.25 },
      y: { type: 'linear', display: false, min: -92.82, max: 86.79 }
    }
  }
});

// legends and panel letters
const page = document.getElementById('page');
function addText(x, y, text, size, color, weight) {
  const d = document.createElement('div');
  d.className = 'txt';
  d.textContent = text;
  d.style.left = x + 'px';
  d.style.top = y + 'px';
  d.style.fontSize = size + 'px';
  d.style.color = color || '#000';
  if (weight) d.style.fontWeight = weight;
  page.appendChild(d);
}
function addSwatch(x, y, w, h, color, border) {
  const d = document.createElement('div');
  d.className = 'swatch';
  d.style.left = x + 'px';
  d.style.top = y + 'px';
  d.style.width = w + 'px';
  d.style.height = h + 'px';
  d.style.background = color;
  if (border) d.style.border = border;
  page.appendChild(d);
}

addText(0, 14, 'A', 27, '#000', 'bold');
addText(736, 14, 'B', 27, '#000', 'bold');
addText(1, 556, 'C', 27, '#000', 'bold');

addText(539, 18, 'Identity', 22.7);
[colWoman, colOther, colMan].forEach((c, i) => {
  addSwatch(541, 42 + i * 50, 46, 47, c);
  addText(600, 65.5 + i * 50, identityLabels[i], 20);
});

addText(1209, 32, 'Expert level', 23);
[colExpert, colWoman, colOther, colMan, colNovice].forEach((c, i) => {
  addSwatch(1211, 56 + i * 50, 46, 46, c);
  addText(1271, 79 + i * 50, levelLabels[i], 20.2);
});

addText(97, 892, 'Freq', 31);
freqColors.forEach((c, i) => {
  addSwatch(99, 920.5 + i * 29.2, 31, 30.2, c, '2px solid #5F6366');
  addText(136.5, 937 + i * 29, freqLabels[i], 23.1);
});
</script>
</body>
</html>
